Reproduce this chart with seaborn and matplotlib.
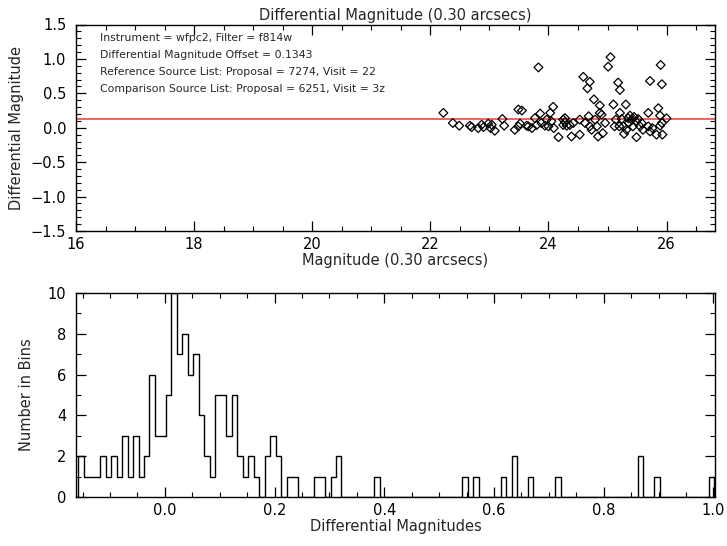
import numpy as np
import pandas as pd
import matplotlib
matplotlib.use("Agg")
import matplotlib.pyplot as plt
from matplotlib.ticker import MultipleLocator
import seaborn as sns

# ---------------- data ----------------
# top panel: magnitude vs differential magnitude
magnitude = [22.22, 22.38, 22.49, 22.67, 22.70, 22.81, 22.87, 22.90, 22.98, 23.04,
             23.02, 23.09, 23.22, 23.25, 23.43, 23.49, 23.55, 23.49, 23.52, 23.63,
             23.66, 23.72, 23.77, 23.80, 23.83, 23.86, 23.88, 23.94, 23.97, 24.00,
             24.03, 24.08, 24.05, 24.09, 24.17, 24.25, 24.28, 24.25, 24.31, 24.28,
             24.36, 24.39, 24.42, 24.53, 24.53, 24.59, 24.70, 24.66, 24.62, 24.68,
             24.70, 24.73, 24.77, 24.79, 24.82, 24.84, 24.87, 24.87, 24.90, 24.92,
             24.96, 25.01, 25.05, 25.10, 25.12, 25.14, 25.18, 25.21, 25.21, 25.20,
             25.24, 25.27, 25.28, 25.31, 25.32, 25.35, 25.36, 25.38, 25.41, 25.43,
             25.45, 25.48, 25.49, 25.52, 25.55, 25.58, 25.60, 25.69, 25.72, 25.69,
             25.72, 25.76, 25.83, 25.86, 25.90, 25.92, 25.89, 25.89, 25.93, 25.92,
             26.00]
diff_mag = [0.216, 0.069, 0.030, 0.030, 0.010, -0.005, 0.044, 0.010, 0.059, 0.044,
            -0.005, -0.044, 0.127, 0.030, -0.030, 0.265, 0.250, 0.020, 0.060, 0.030,
            0.020, -0.005, 0.140, 0.040, 0.877, 0.206, 0.069, 0.030, 0.118, 0.020,
            0.216, 0.304, 0.093, -0.005, -0.137, 0.118, 0.140, 0.040, 0.030, 0.080,
            0.040, -0.127, 0.069, -0.100, 0.118, 0.740, 0.667, 0.573, 0.069, 0.167,
            0.020, -0.030, 0.412, 0.118, 0.020, -0.127, 0.324, 0.216, 0.190, -0.078,
            0.069, 0.887, 1.025, 0.338, 0.020, 0.118, 0.657, 0.549, 0.216, 0.020,
            0.127, 0.020, -0.088, 0.338, -0.030, 0.140, 0.069, 0.177, 0.118, 0.020,
            0.157, 0.093, -0.137, 0.127, 0.020, 0.069, -0.030, 0.216, 0.680, 0.020,
            -0.054, -0.005, -0.100, 0.284, 0.912, 0.632, 0.177, 0.030, -0.100, 0.069,
            0.137]
offset = 0.1343

# bottom panel: histogram of differential magnitudes (bin width 0.01)
bin_start = -0.163
bin_width = 0.01
hist_counts = [0, 2, 1, 1, 1, 2, 1, 2, 1, 3, 1, 3, 1, 2, 6, 3, 3, 5, 10, 7,
               8, 6, 7, 4, 2, 1, 5, 5, 3, 5, 2, 1, 2, 1, 0, 2, 3, 2, 0, 1,
               1, 0, 0, 0, 1, 1, 0, 1, 2, 0, 0, 0, 0, 0, 0, 1, 0, 0, 0, 0,
               0, 0, 0, 0, 0, 0, 0, 0, 0, 0, 0, 1, 0, 1, 0, 0, 0, 0, 1, 0,
               2, 0, 0, 1, 0, 0, 0, 0, 1, 0, 0, 0, 0, 0, 0, 0, 0, 0, 0, 0,
               0, 0, 0, 2, 0, 0, 1, 0, 0, 0, 0, 0, 0, 0, 0, 0, 1, 0]

title = "Differential Magnitude (0.30 arcsecs)"
info_lines = ["Instrument = wfpc2, Filter = f814w",
              "Differential Magnitude Offset = 0.1343",
              "Reference Source List: Proposal = 7274, Visit = 22",
              "Comparison Source List: Proposal = 6251, Visit = 3z"]

# ---------------- style ----------------
sns.set_style("ticks")
plt.rcParams["font.family"] = ["DejaVu Sans"]
plt.rcParams.update({
    "xtick.direction": "in", "ytick.direction": "in",
    "xtick.top": True, "ytick.right": True,
    "xtick.major.size": 7, "ytick.major.size": 7,
    "xtick.minor.size": 3.5, "ytick.minor.size": 3.5,
    "xtick.major.width": 0.9, "ytick.major.width": 0.9,
    "xtick.minor.width": 0.8, "ytick.minor.width": 0.8,
    "xtick.major.pad": 4, "ytick.major.pad": 7,
    "axes.linewidth": 1.0,
    "axes.edgecolor": "black",
    "xtick.color": "black", "ytick.color": "black",
    "xtick.labelsize": 10.5, "ytick.labelsize": 10.5,
})

fig = plt.figure(figsize=(7.27, 5.46), dpi=100)
ax1 = fig.add_axes([76 / 727, 1 - 231 / 546, 639 / 727, 206.5 / 546])
ax2 = fig.add_axes([76 / 727, 1 - 497 / 546, 639 / 727, 204 / 546])

# ---- top scatter ----
df = pd.DataFrame({"mag": magnitude, "dm": diff_mag})
sns.scatterplot(data=df, x="mag", y="dm", ax=ax1, marker="D", s=20,
                facecolor="none", edgecolor="black", linewidth=0.9, zorder=3)
ax1.axhline(offset, color="#f04848", lw=1.2, zorder=2)
ax1.set_xlim(16, 26.82)
ax1.set_ylim(-1.5, 1.5)
ax1.xaxis.set_major_locator(MultipleLocator(2))
ax1.xaxis.set_minor_locator(MultipleLocator(0.5))
ax1.yaxis.set_major_locator(MultipleLocator(0.5))
ax1.yaxis.set_minor_locator(MultipleLocator(0.1))
ax1.set_xlabel("Magnitude (0.30 arcsecs)", fontsize=10.5, labelpad=1)
ax1.set_ylabel("Differential Magnitude", fontsize=10.5, labelpad=5)
ax1.set_title(title, fontsize=10.5, pad=3)
for k, line in enumerate(info_lines):
    ax1.text(0.0376, 0.933 - 0.081 * k, line, transform=ax1.transAxes,
             fontsize=7.8, va="center", ha="left")

# ---- bottom histogram ----
centers = bin_start + bin_width * np.arange(len(hist_counts))
hdf = pd.DataFrame({"x": centers, "n": hist_counts})
sns.lineplot(data=hdf, x="x", y="n", ax=ax2, color="black", lw=1.0,
             drawstyle="steps-mid", estimator=None, sort=False)
ax2.set_xlim(-0.162, 1.003)
ax2.set_ylim(0, 10)
ax2.xaxis.set_major_locator(MultipleLocator(0.2))
ax2.xaxis.set_minor_locator(MultipleLocator(0.05))
ax2.yaxis.set_major_locator(MultipleLocator(2))
ax2.yaxis.set_minor_locator(MultipleLocator(1))
ax2.set_xlabel("Differential Magnitudes", fontsize=10.5, labelpad=1)
ax2.set_ylabel("Number in Bins", fontsize=10.5, labelpad=10)

fig.savefig("out.png", dpi=100)
